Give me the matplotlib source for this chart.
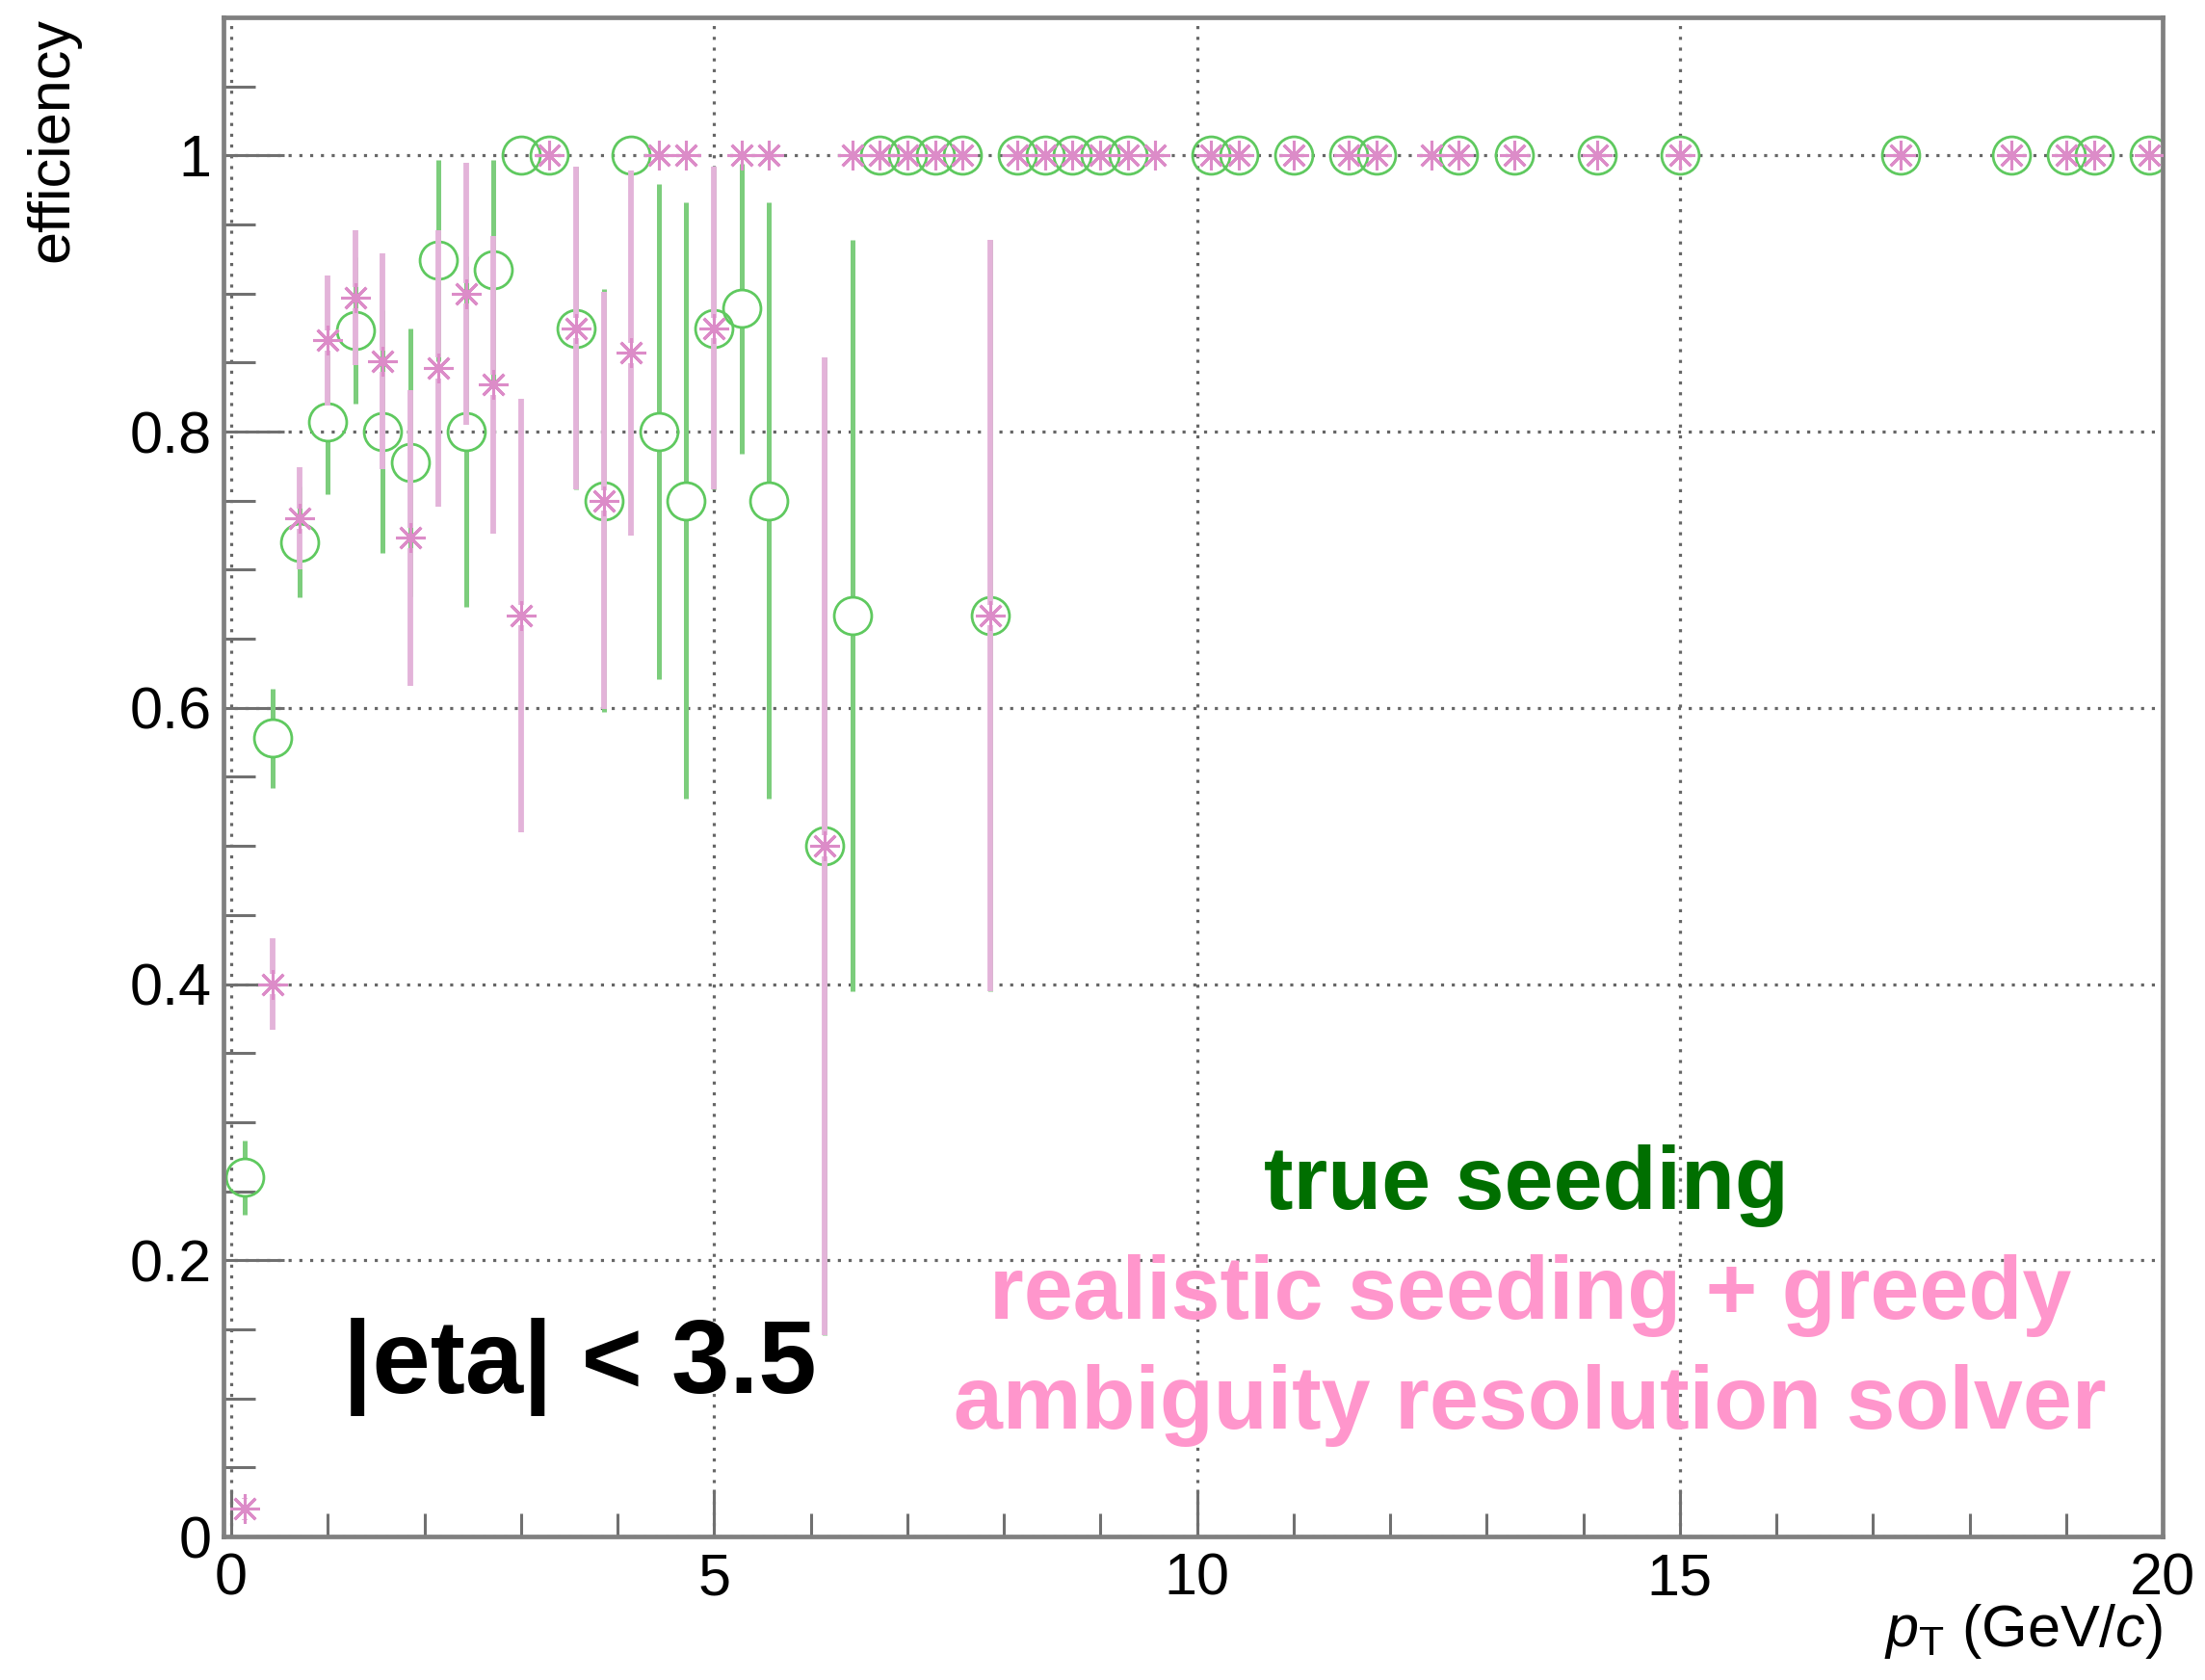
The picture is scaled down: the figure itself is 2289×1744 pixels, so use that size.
import numpy as np
import matplotlib
matplotlib.use("Agg")
import matplotlib.pyplot as plt
from matplotlib.ticker import MultipleLocator, FormatStrFormatter

plt.rcParams['font.family'] = ['Liberation Sans', 'DejaVu Sans']
plt.rcParams['mathtext.fontset'] = 'custom'
plt.rcParams['mathtext.rm'] = 'Liberation Sans'
plt.rcParams['mathtext.it'] = 'Liberation Sans:italic'

# true seeding (green open circles)
pt_true = [0.14, 0.43, 0.71, 1.00, 1.29, 1.57, 1.86, 2.14, 2.43, 2.71,
           3.00, 3.29, 3.57, 3.86, 4.14, 4.43, 4.71, 5.00, 5.29, 5.57,
           6.14, 6.43, 6.71, 7.00, 7.29, 7.57, 7.86, 8.14, 8.43, 8.71,
           9.00, 9.29, 10.14, 10.43, 11.00, 11.57, 11.86, 12.71, 13.29, 14.14,
           15.00, 17.29, 18.43, 19.00, 19.29, 19.86]
eff_true = [0.26, 0.578, 0.72, 0.807, 0.873, 0.80, 0.778, 0.924, 0.80, 0.917,
            1, 1, 0.875, 0.75, 1, 0.80, 0.75, 0.875, 0.889, 0.75,
            0.5, 0.667, 1, 1, 1, 1, 0.667, 1, 1, 1,
            1, 1, 1, 1, 1, 1, 1, 1, 1, 1,
            1, 1, 1, 1, 1, 1]
err_true = [0.027, 0.036, 0.04, 0.052, 0.053, 0.088, 0.097, 0.073, 0.127, 0.08,
            0, 0, 0.117, 0.153, 0, 0.179, 0.216, 0.117, 0.105, 0.216,
            0.354, 0.272, 0, 0, 0, 0, 0.272, 0, 0, 0,
            0, 0, 0, 0, 0, 0, 0, 0, 0, 0,
            0, 0, 0, 0, 0, 0]

# realistic seeding + greedy ambiguity resolution (pink stars)
pt_real = [0.14, 0.43, 0.71, 1.00, 1.29, 1.57, 1.86, 2.14, 2.43, 2.71,
           3.00, 3.29, 3.57, 3.86, 4.14, 4.43, 4.71, 5.00, 5.29, 5.57,
           6.14, 6.43, 6.71, 7.00, 7.29, 7.57, 7.86, 8.14, 8.43, 8.71,
           9.00, 9.29, 9.57, 10.14, 10.43, 11.00, 11.57, 11.86, 12.43, 12.71,
           13.29, 14.14, 15.00, 17.29, 18.43, 19.00, 19.29, 19.86]
eff_real = [0.02, 0.40, 0.737, 0.866, 0.897, 0.851, 0.723, 0.846, 0.90, 0.834,
            0.667, 1, 0.875, 0.75, 0.857, 1, 1, 0.875, 1, 1,
            0.5, 1, 1, 1, 1, 1, 0.667, 1, 1, 1,
            1, 1, 1, 1, 1, 1, 1, 1, 1, 1,
            1, 1, 1, 1, 1, 1, 1, 1]
err_real = [0.008, 0.033, 0.037, 0.047, 0.049, 0.078, 0.107, 0.10, 0.095, 0.108,
            0.157, 0, 0.117, 0.151, 0.132, 0, 0, 0.117, 0, 0,
            0.354, 0, 0, 0, 0, 0, 0.272, 0, 0, 0,
            0, 0, 0, 0, 0, 0, 0, 0, 0, 0,
            0, 0, 0, 0, 0, 0, 0, 0]

W, H = 2289, 1744
fig = plt.figure(figsize=(W / 100, H / 100), dpi=100)
ax = fig.add_axes([232 / W, 149 / H, 2013 / W, 1577 / H])
ax.set_xlim(-0.08, 20)
ax.set_ylim(0, 1.1)

green_ms = 28
star_ms = 22


def draw_bars(x, y, e, ms, color, lw, z):
    # ROOT-like error bars: leave a gap where the marker sits
    x, y, e = np.asarray(x), np.asarray(y), np.asarray(e)
    px = ax.transData.transform((0, 1))[1] - ax.transData.transform((0, 0))[1]
    gap = ms * fig.dpi / 72 / 2 / px
    m = e > gap
    ax.vlines(x[m], (y - e)[m], (y - gap)[m], colors=color, lw=lw, zorder=z)
    ax.vlines(x[m], (y + gap)[m], (y + e)[m], colors=color, lw=lw, zorder=z)


draw_bars(pt_true, eff_true, err_true, green_ms, '#7ccd7c', 3.6, 1)
ax.plot(pt_true, eff_true, 'o', ms=green_ms, mfc='none', mec='#5fc95f',
        mew=2.0, zorder=2)
draw_bars(pt_real, eff_real, err_real, star_ms * 0.7, '#e3b3d9', 4.2, 3)
ax.plot(pt_real, eff_real, ls='none', marker=(8, 2, 0), ms=star_ms,
        mec='#dc8cc8', mew=2.2, zorder=4)

# axes styling (ROOT look)
ax.xaxis.set_major_locator(MultipleLocator(5))
ax.xaxis.set_minor_locator(MultipleLocator(1))
ax.yaxis.set_major_locator(MultipleLocator(0.2))
ax.yaxis.set_minor_locator(MultipleLocator(0.05))
ax.yaxis.set_major_formatter(FormatStrFormatter('%g'))
ax.grid(True, which='major', color='#666666', lw=2.3, linestyle=(0, (1, 2.5)))
ax.set_axisbelow(True)

ax.tick_params(axis='x', which='major', direction='in', length=35, width=2.2,
               color='#707070', labelsize=44, pad=12, top=False)
ax.tick_params(axis='x', which='minor', direction='in', length=17, width=2.2,
               color='#707070', top=False)
ax.tick_params(axis='y', which='major', direction='in', length=45, width=2.2,
               color='#707070', labelsize=44, pad=9, right=False)
ax.tick_params(axis='y', which='minor', direction='in', length=24, width=2.2,
               color='#707070', right=False)
for s in ax.spines.values():
    s.set_color('#808080')
    s.set_linewidth(3.4)

ax.set_xlabel(r'$p_{\mathrm{T}}$ (GeV/$c$)', fontsize=44, loc='right')
ax.xaxis.set_label_coords(1.0, -0.043)
ax.set_ylabel('efficiency', fontsize=44, loc='top')
ax.yaxis.set_label_coords(-0.074, 1.0)

ax.text(0.0616, 0.0945, '|eta| < 3.5', transform=ax.transAxes, fontsize=78,
        fontweight='bold', color='black', ha='left', va='baseline', zorder=5)
ax.text(0.672, 0.2156, 'true seeding', transform=ax.transAxes, fontsize=66,
        fontweight='bold', color='#006f00', ha='center', va='baseline', zorder=5)
ax.text(0.674, 0.1433, 'realistic seeding + greedy', transform=ax.transAxes,
        fontsize=66, fontweight='bold', color='#ff96cc', ha='center',
        va='baseline', zorder=5)
ax.text(0.674, 0.071, 'ambiguity resolution solver', transform=ax.transAxes,
        fontsize=66, fontweight='bold', color='#ff96cc', ha='center',
        va='baseline', zorder=5)

fig.savefig('out.png', dpi=100)
